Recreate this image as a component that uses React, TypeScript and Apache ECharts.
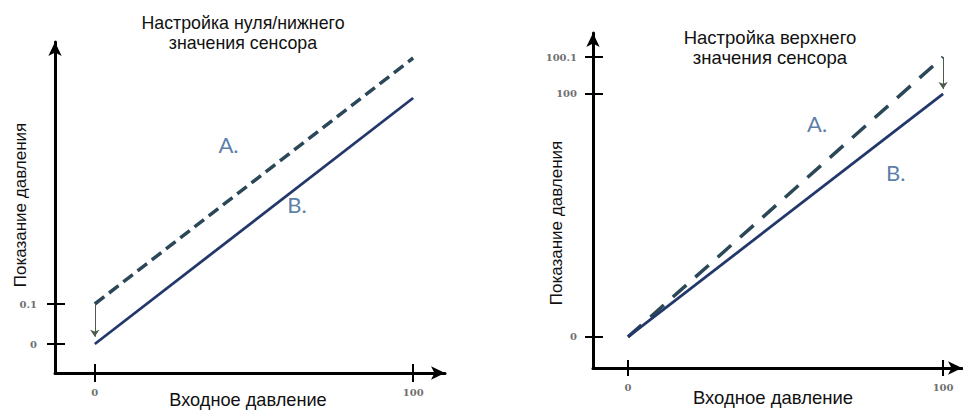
import React, { useEffect, useRef } from 'react';
import * as echarts from 'echarts';

// Diagram values (schematic units as drawn)
const xTickValues = [0, 100];
const xTickLabels = ['0', '100'];

const leftYTickValues = [0, 0.1];
const leftYTickLabels = ['0', '0.1'];
const leftLineA = [[0, 0.1], [100, 0.715]];
const leftLineB = [[0, 0], [100, 0.615]];
const leftArrow = [[0, 0.1], [0, 0.018]];
const leftLabelA = [42, 0.5];
const leftLabelB = [63.5, 0.35];

const rightYTickValues = [0, 100, 115.2];
const rightYTickLabels = ['0', '100', '100.1'];
const rightLineA = [[0, 0], [100, 115.2]];
const rightLineB = [[0, 0], [100, 100]];
const rightArrow = [[100, 115.2], [100, 102]];
const rightLabelA = [60, 88];
const rightLabelB = [85, 67.5];

const leftTitle = 'Настройка нуля/нижнего\nзначения сенсора';
const rightTitle = 'Настройка верхнего\nзначения сенсора';
const xName = 'Входное давление';
const yName = 'Показание давления';

const fmt = (vals: number[], labels: string[]) => (v: number) => {
  const i = vals.findIndex((t) => Math.abs(t - v) < 1e-6);
  return i >= 0 ? labels[i] : '';
};

const tickLabelStyle = {
  fontFamily: 'DejaVu Serif',
  fontSize: 10,
  fontWeight: 'bold' as const,
  color: '#707070',
};

function mainAxis(pos: string, gridIndex: number, min: number, max: number, vals: number[], labels: string[], margin: number) {
  return {
    type: 'value',
    position: pos,
    gridIndex,
    min,
    max,
    axisLine: {
      show: true,
      onZero: false,
      symbol: ['none', 'arrow'],
      symbolSize: [10, 14],
      lineStyle: { color: '#000', width: 3 },
    },
    axisTick: { show: false },
    axisLabel: { show: true, customValues: vals, formatter: fmt(vals, labels), margin, ...tickLabelStyle },
    splitLine: { show: false },
  };
}

function tickAxis(pos: string, gridIndex: number, min: number, max: number, vals: number[], inside: boolean, length: number) {
  return {
    type: 'value',
    position: pos,
    gridIndex,
    min,
    max,
    axisLine: { show: false, onZero: false },
    axisTick: { show: true, inside, customValues: vals, length, lineStyle: { color: '#000', width: 2 } },
    axisLabel: { show: false },
    splitLine: { show: false },
  };
}

const colorB = '#22386a';
const colorA = '#2c4858';
const arrowColor = '#4d5c4a';
const letterStyle = { fontFamily: 'Lato', fontSize: 22, color: '#2f5c90' };

function labelSeries(xIdx: number, yIdx: number, pt: number[], text: string) {
  return {
    type: 'scatter',
    xAxisIndex: xIdx,
    yAxisIndex: yIdx,
    data: [pt],
    symbolSize: 1,
    itemStyle: { color: 'rgba(0,0,0,0)' },
    silent: true,
    label: { show: true, position: 'inside', formatter: text, ...letterStyle },
  };
}

function arrowMark(a: number[][]) {
  return {
    silent: true,
    symbol: ['none', 'arrow'],
    symbolSize: 7,
    lineStyle: { color: arrowColor, width: 1, type: 'solid' },
    label: { show: false },
    data: [[{ coord: a[0] }, { coord: a[1] }]],
  };
}

export default function App() {
  const ref = useRef<HTMLDivElement>(null);
  useEffect(() => {
    if (!ref.current) return;
    const chart = echarts.init(ref.current, null, { renderer: 'svg' });
    const font = (size: number) => ({ fontFamily: 'Liberation Sans', fontSize: size, fill: '#111' });
    const LX: [number, number] = [-12.5, 110];
    const RX: [number, number] = [-11.1, 106];
    const LY: [number, number] = [-0.0725, 0.755];
    const RY: [number, number] = [-12.8, 125.1];
    chart.setOption({
      animation: false,
      backgroundColor: '#fff',
      grid: [
        { left: 55, top: 42, width: 390, height: 331 },
        { left: 593, top: 33, width: 369, height: 335 },
      ],
      xAxis: [
        mainAxis('bottom', 0, LX[0], LX[1], xTickValues, xTickLabels, 14),
        tickAxis('bottom', 0, LX[0], LX[1], xTickValues, true, 9),
        tickAxis('bottom', 0, LX[0], LX[1], xTickValues, false, 9),
        mainAxis('bottom', 1, RX[0], RX[1], xTickValues, xTickLabels, 14),
        tickAxis('bottom', 1, RX[0], RX[1], xTickValues, true, 8),
        tickAxis('bottom', 1, RX[0], RX[1], xTickValues, false, 8),
      ],
      yAxis: [
        mainAxis('left', 0, LY[0], LY[1], leftYTickValues, leftYTickLabels, 18),
        tickAxis('left', 0, LY[0], LY[1], leftYTickValues, true, 10),
        tickAxis('left', 0, LY[0], LY[1], leftYTickValues, false, 8),
        mainAxis('left', 1, RY[0], RY[1], rightYTickValues, rightYTickLabels, 16),
        tickAxis('left', 1, RY[0], RY[1], rightYTickValues, true, 10),
        tickAxis('left', 1, RY[0], RY[1], rightYTickValues, false, 8),
      ],
      series: [
        {
          type: 'line', xAxisIndex: 0, yAxisIndex: 0, data: leftLineA, showSymbol: false, silent: true,
          lineStyle: { color: colorA, width: 3.5, type: [12, 6] },
        },
        {
          type: 'line', xAxisIndex: 0, yAxisIndex: 0, data: leftLineB, showSymbol: false, silent: true,
          lineStyle: { color: colorB, width: 2.8 },
          markLine: arrowMark(leftArrow),
        },
        {
          type: 'line', xAxisIndex: 3, yAxisIndex: 3, data: rightLineA, showSymbol: false, silent: true,
          lineStyle: { color: colorA, width: 3.5, type: [18, 12] },
        },
        {
          type: 'line', xAxisIndex: 3, yAxisIndex: 3, data: rightLineB, showSymbol: false, silent: true,
          lineStyle: { color: colorB, width: 2.8 },
          markLine: arrowMark(rightArrow),
        },
        labelSeries(0, 0, leftLabelA, 'A.'),
        labelSeries(0, 0, leftLabelB, 'B.'),
        labelSeries(3, 3, rightLabelA, 'A.'),
        labelSeries(3, 3, rightLabelB, 'B.'),
      ],
      graphic: [
        { type: 'text', x: 243, y: 33, style: { text: leftTitle, textAlign: 'center', textVerticalAlign: 'middle', lineHeight: 20, ...font(17.8) } },
        { type: 'text', x: 770, y: 47, style: { text: rightTitle, textAlign: 'center', textVerticalAlign: 'middle', lineHeight: 20, ...font(18.5) } },
        { type: 'text', x: 248, y: 400, style: { text: xName, textAlign: 'center', textVerticalAlign: 'middle', ...font(18.2) } },
        { type: 'text', x: 773, y: 397, style: { text: xName, textAlign: 'center', textVerticalAlign: 'middle', ...font(18.5) } },
        { type: 'text', x: 20, y: 205, rotation: Math.PI / 2, style: { text: yName, textAlign: 'center', textVerticalAlign: 'middle', ...font(17) } },
        { type: 'text', x: 556, y: 223, rotation: Math.PI / 2, style: { text: yName, textAlign: 'center', textVerticalAlign: 'middle', ...font(17) } },
      ],
    });
    return () => chart.dispose();
  }, []);
  return <div ref={ref} style={{ position: 'fixed', left: 0, top: 0, width: 963, height: 410 }} />;
}
